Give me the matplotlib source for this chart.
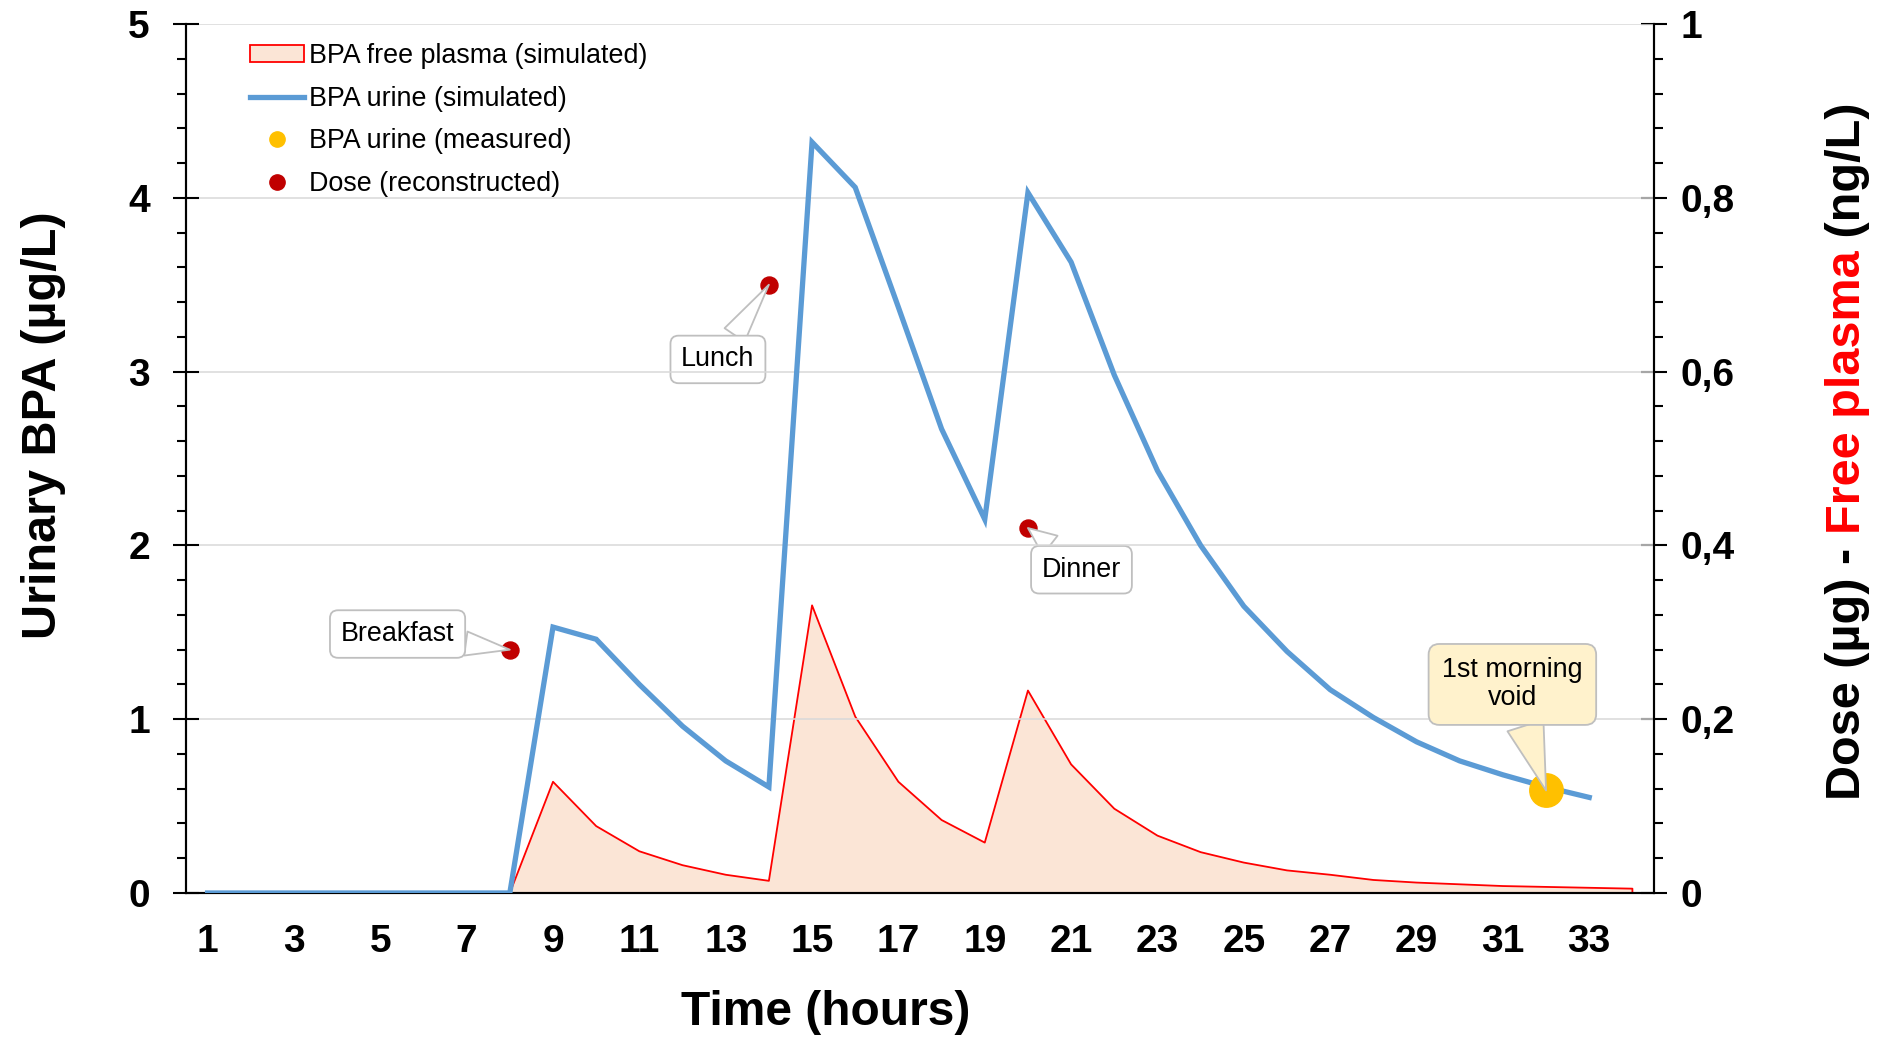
import matplotlib
matplotlib.use('Agg')
import matplotlib.pyplot as plt
from matplotlib.ticker import MultipleLocator, AutoMinorLocator, FuncFormatter
from matplotlib.patches import Patch
from matplotlib.lines import Line2D

plt.rcParams['font.family'] = ['Liberation Sans', 'DejaVu Sans']

# hours
hours = list(range(1, 35))

# BPA urine simulated (ug/L), hours 1..33
urine_sim = [0, 0, 0, 0, 0, 0, 0, 0, 1.53, 1.46, 1.20, 0.96, 0.76, 0.61,
             4.32, 4.06, 3.37, 2.67, 2.15, 4.03, 3.63, 2.98, 2.43, 2.00,
             1.65, 1.39, 1.17, 1.01, 0.87, 0.76, 0.68, 0.61, 0.55]

# BPA free plasma simulated (ng/L), hours 1..34
plasma_sim = [0, 0, 0, 0, 0, 0, 0, 0, 0.128, 0.077, 0.048, 0.032, 0.021, 0.014,
              0.331, 0.203, 0.128, 0.084, 0.058, 0.233, 0.148, 0.097, 0.066, 0.047,
              0.035, 0.026, 0.021, 0.015, 0.012, 0.010, 0.008, 0.007, 0.006, 0.005]

# reconstructed doses (ug)
dose_hours = [8, 14, 20]
dose_values = [0.28, 0.70, 0.42]
dose_labels = ['Breakfast', 'Lunch', 'Dinner']

# measured urine
meas_hours = [32]
meas_values = [0.59]

fig = plt.figure(figsize=(18.82, 10.37), dpi=100)
ax = fig.add_axes([186/1882, 1-893/1037, (1654-186)/1882, (893-24)/1037])
ax2 = ax.twinx()
ax.set_zorder(ax2.get_zorder() + 1)
ax.patch.set_visible(False)

# secondary axis: plasma area and doses
ax2.fill_between(hours, plasma_sim, 0, facecolor='#FBE5D6', edgecolor='none', zorder=1)
ax2.plot(hours + [hours[-1]], plasma_sim + [0], color='#FF0000', lw=1.3, zorder=2)
ax2.scatter(dose_hours, dose_values, s=150, color='#C00000', zorder=3)

# primary axis: urine
ax.plot(hours[:len(urine_sim)], urine_sim, color='#5B9BD5', lw=3.8, zorder=3,
        solid_joinstyle='miter')
ax.scatter(meas_hours, meas_values, s=580, color='#FFC000', zorder=4)

ax.set_xlim(0.5, 34.5)
ax.set_ylim(0, 5)
ax2.set_ylim(0, 1)

ax.yaxis.set_major_locator(MultipleLocator(1))
ax.yaxis.set_minor_locator(AutoMinorLocator(5))
ax2.yaxis.set_major_locator(MultipleLocator(0.2))
ax2.yaxis.set_minor_locator(AutoMinorLocator(5))
ax2.yaxis.set_major_formatter(FuncFormatter(lambda v, p: ('%g' % round(v, 2)).replace('.', ',')))
ax.set_xticks(hours[::2])

ax.grid(axis='y', color='#D9D9D9', lw=1.1, zorder=0)
ax.set_axisbelow(True)

for a in (ax, ax2):
    for s in a.spines.values():
        s.set_linewidth(1.5)
    a.spines['top'].set_visible(False)
ax.tick_params(axis='y', which='major', direction='inout', length=19, width=1.5,
               labelsize=28, pad=16.5)
ax.tick_params(axis='y', which='minor', direction='out', length=6.5, width=1.5)
ax2.tick_params(axis='y', which='major', direction='inout', length=19, width=1.5,
                labelsize=28, pad=9.5)
ax2.tick_params(axis='y', which='minor', direction='out', length=6.5, width=1.5)
ax.tick_params(axis='x', length=0, labelsize=28, pad=22)
for lab in ax.get_xticklabels() + ax.get_yticklabels() + ax2.get_yticklabels():
    lab.set_fontweight('bold')

# legend
handles = [
    Patch(facecolor='#FBE5D6', edgecolor='#FF0000', lw=1.3),
    Line2D([], [], color='#5B9BD5', lw=3.8),
    Line2D([], [], color='#FFC000', marker='o', ls='none', markersize=11),
    Line2D([], [], color='#C00000', marker='o', ls='none', markersize=11),
]
labels = ['BPA free plasma (simulated)', 'BPA urine (simulated)',
          'BPA urine (measured)', 'Dose (reconstructed)']
leg = ax.legend(handles, labels, loc='upper left', bbox_to_anchor=(0.027, 1.006),
                frameon=False, fontsize=19.4, labelspacing=0.62, handlelength=2.0,
                handletextpad=0.2, handleheight=0.6)

# callouts
box = dict(boxstyle='round,pad=0.4,rounding_size=0.3', fc='white', ec='#BFBFBF', lw=1.3)
arrow = dict(arrowstyle='wedge,tail_width=0.9,shrink_factor=0.5', fc='white', ec='#BFBFBF',
             lw=1.3, shrinkA=0, shrinkB=0)
label_pos = [(5.40, 0.298), (12.82, 0.614), (21.24, 0.372)]
for h, v, t, pos in zip(dose_hours, dose_values, dose_labels, label_pos):
    ax2.annotate(t, xy=(h, v), xytext=pos, ha='center', va='center', fontsize=19.4,
                 bbox=box, arrowprops=arrow, zorder=5)

ax.annotate('1st morning\nvoid', xy=(meas_hours[0], meas_values[0]), xytext=(31.22, 1.2),
            ha='center', va='center', fontsize=19.4, linespacing=1.1,
            bbox=dict(boxstyle='round,pad=0.5,rounding_size=0.4', fc='#FFF2CC', ec='#BFBFBF', lw=1.3),
            arrowprops=dict(arrowstyle='wedge,tail_width=1.4,shrink_factor=0.5', fc='#FFF2CC',
                            ec='#BFBFBF', lw=1.3, shrinkA=0, shrinkB=0),
            zorder=5)

# axis titles
fig.text(826/1882, 1-1025/1037, 'Time (hours)', ha='center', va='baseline',
         fontsize=34.5, fontweight='bold')
fig.text(44/1882, 1-425/1037, 'Urinary BPA (µg/L)', ha='center', va='center',
         rotation=90, fontsize=35, fontweight='bold')

fig.canvas.draw()
t1 = fig.text(1860/1882, 1-800/1037, 'Dose (µg) - ', rotation=90, rotation_mode='anchor',
              ha='left', va='baseline', fontsize=35, fontweight='bold', color='black')
fig.canvas.draw()
bb = t1.get_window_extent()
y_next = bb.y1 / fig.bbox.height
t2 = fig.text(1860/1882, y_next, 'Free plasma', rotation=90, rotation_mode='anchor',
              ha='left', va='baseline', fontsize=35, fontweight='bold', color='#FF0000')
fig.canvas.draw()
bb = t2.get_window_extent()
y_next = bb.y1 / fig.bbox.height
fig.text(1860/1882, y_next, ' (ng/L)', rotation=90, rotation_mode='anchor',
         ha='left', va='baseline', fontsize=35, fontweight='bold', color='black')

fig.savefig('out.png', dpi=100)
